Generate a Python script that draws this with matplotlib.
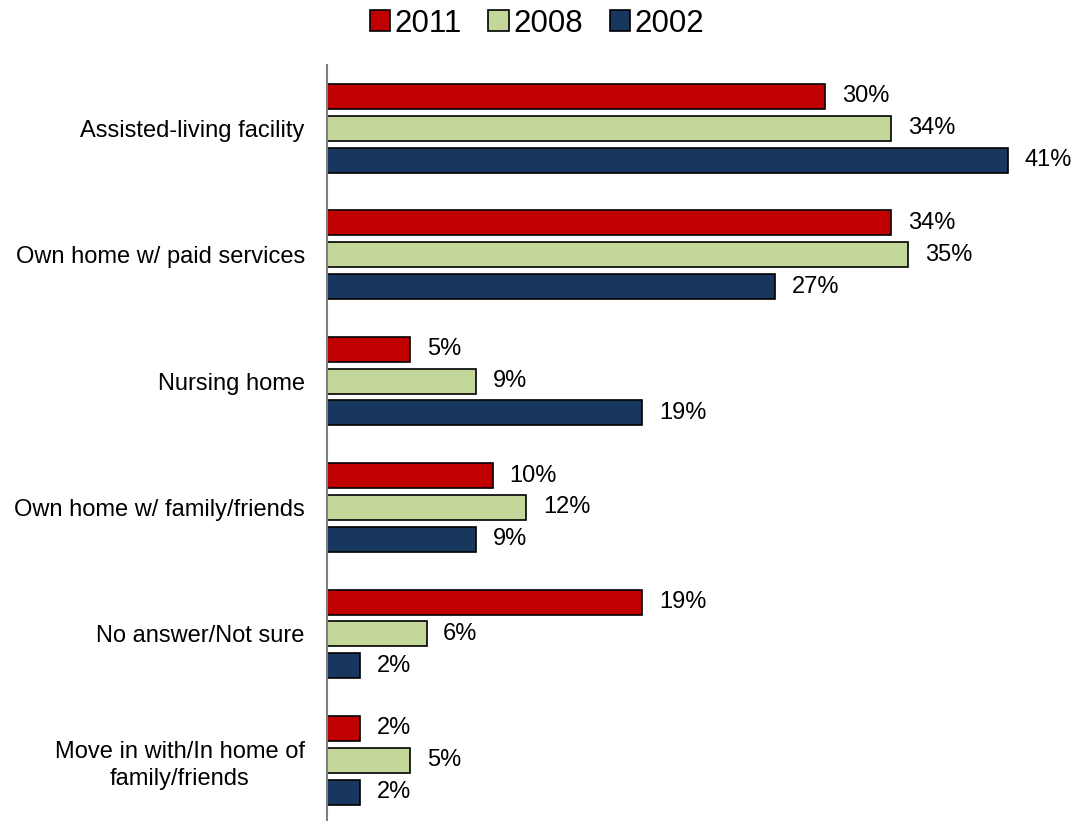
import numpy as np
import matplotlib.pyplot as plt
from matplotlib.patches import Patch

plt.rcParams['font.family'] = ['Liberation Sans', 'DejaVu Sans']

categories = [
    "Assisted-living facility",
    "Own home w/ paid services",
    "Nursing home",
    "Own home w/ family/friends",
    "No answer/Not sure",
    "Move in with/In home of\nfamily/friends",
]
years = ["2011", "2008", "2002"]
vals_2011 = [30, 34, 5, 10, 19, 2]
vals_2008 = [34, 35, 9, 12, 6, 5]
vals_2002 = [41, 27, 19, 9, 2, 2]
colors = ["#C00000", "#C4D79B", "#17375E"]

fig = plt.figure(figsize=(10.74, 8.21), dpi=100)
ax = fig.add_axes([0.3045, 0.0, 0.6955, 0.9208])

y = np.arange(len(categories))
step = 0.252
height = 0.198
for i, (vals, c) in enumerate(zip([vals_2011, vals_2008, vals_2002], colors)):
    pos = y + (i - 1) * step
    ax.barh(pos, vals, height=height, color=c, edgecolor="black", linewidth=1.2)
    for p, v in zip(pos, vals):
        ax.text(v + 1.0, p, f"{v}%", va="center", ha="left", fontsize=17)

ax.set_xlim(0, 45)
ax.set_ylim(5.48, -0.5)
ax.set_yticks(y)
ax.set_yticklabels(categories, fontsize=17)
for lbl in ax.get_yticklabels():
    lbl.set_multialignment("center")
    lbl.set_linespacing(1.3)
ax.tick_params(axis="y", length=0, pad=16)
ax.set_xticks([])
for s in ["top", "right", "bottom"]:
    ax.spines[s].set_visible(False)
ax.spines["left"].set_color("#808080")
ax.spines["left"].set_linewidth(1.5)

handles = [Patch(facecolor=c, edgecolor="black", linewidth=1.2) for c in colors]
fig.legend(handles, years, loc="center", bbox_to_anchor=(0.5, 0.971), ncol=3,
           frameon=False, fontsize=22.5, handlelength=0.65, handleheight=0.65,
           handletextpad=0.15, columnspacing=0.85)

fig.savefig("out.png", dpi=100)
